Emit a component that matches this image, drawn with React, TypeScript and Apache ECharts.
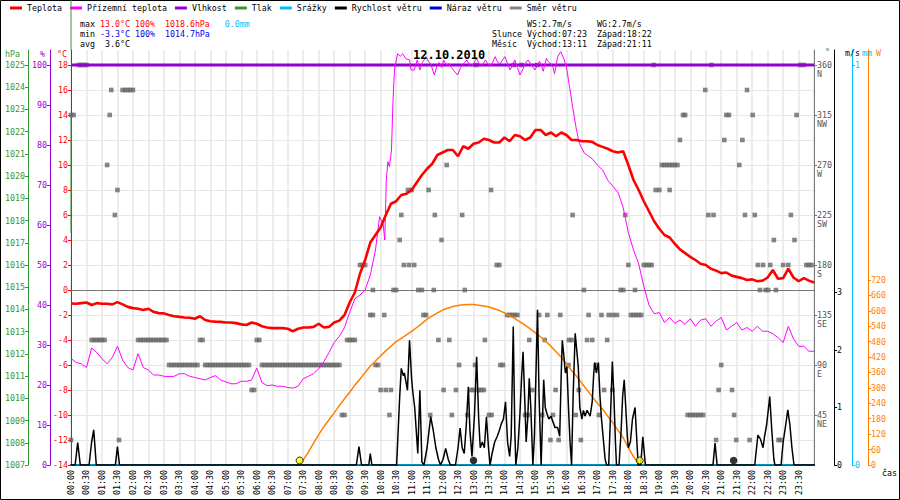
import React, { useEffect, useRef } from 'react';
import * as echarts from 'echarts';

// ---------- data ----------
const legendNames = ['Teplota', 'Přízemní teplota', 'Vlhkost', 'Tlak', 'Srážky', 'Rychlost větru', 'Náraz větru', 'Směr větru'];
const dateTitle = '12.10.2010';

// temperature, every 10 minutes from 00:00 to 24:00 (°C)
const STEP_MIN = 10;
const airTemp = [
  -1.08, -1.1, -1.05, -1.0, -1.2, -1.05, -1.1, -1.1, -1.15, -0.97, -1.15, -1.35,
  -1.45, -1.5, -1.6, -1.5, -1.75, -1.85, -1.87, -2.0, -2.1, -2.15, -2.2, -2.22,
  -2.3, -2.1, -2.4, -2.5, -2.53, -2.55, -2.6, -2.6, -2.65, -2.75, -2.8, -2.6,
  -2.7, -2.9, -3.0, -3.05, -3.05, -3.05, -3.1, -3.3, -3.1, -3.0, -3.0, -2.95,
  -2.7, -3.0, -2.95, -2.6, -2.45, -2.0, -1.0, -0.2, 1.3, 2.4, 3.8, 4.4,
  5.0, 6.0, 6.9, 7.1, 7.6, 7.7, 8.0, 8.6, 9.2, 9.7, 10.1, 10.8,
  11.0, 11.2, 11.2, 10.7, 11.5, 11.3, 11.7, 11.8, 12.1, 12.0, 11.8, 11.8,
  12.2, 11.9, 12.4, 12.3, 12.0, 12.2, 12.8, 12.8, 12.4, 12.6, 12.3, 12.6,
  12.4, 12.0, 12.0, 11.9, 11.9, 11.85, 11.6, 11.45, 11.3, 11.1, 11.0, 11.1,
  10.0, 8.8, 8.0, 7.1, 6.3, 5.5, 4.9, 4.4, 4.2, 3.7, 3.25, 2.95,
  2.65, 2.4, 2.1, 2.0, 1.7, 1.55, 1.35, 1.4, 1.15, 1.05, 0.95, 0.8,
  0.85, 0.7, 0.75, 1.0, 1.6, 0.9, 0.95, 1.7, 1.0, 0.7, 0.95, 0.75,
  0.6,
];

// ground temperature, every 10 minutes (°C)
const groundTemp = [
  -5.47, -5.8, -5.9, -6.2, -4.65, -5.0, -5.5, -5.9, -5.4, -4.5, -5.6, -6.2,
  -6.4, -5.1, -6.2, -6.4, -6.8, -6.8, -6.9, -6.93, -6.9, -6.7, -6.7, -6.9,
  -7.0, -7.1, -7.2, -7.0, -6.85, -7.2, -7.35, -7.5, -7.5, -7.3, -7.3, -7.2,
  -6.25, -7.4, -7.65, -7.6, -7.7, -7.7, -7.8, -7.85, -7.7, -7.1, -6.9, -6.7,
  -6.3, -5.73, -5.0, -4.2, -3.7, -3.0, -1.8, -0.7, -0.4, 0.0, 1.2, 3.2,
  5.5, 8.0, 11.0, 18.3, 18.9, 18.6, 17.6, 18.4, 17.7, 18.6, 17.8, 17.9,
  18.4, 18.1, 17.6, 17.3, 18.1, 18.3, 18.0, 18.5, 18.3, 18.0, 18.7, 18.1,
  18.67, 17.9, 18.4, 17.2, 18.2, 18.4, 17.7, 18.3, 18.5, 18.1, 18.6, 19.0,
  17.8, 15.0, 12.8, 11.2, 10.8, 10.5, 10.0, 9.6, 8.8, 8.3, 7.8, 6.6,
  4.6, 3.2, 2.1, 0.3, -1.2, -1.9, -1.8, -2.6, -2.2, -2.67, -2.4, -2.75,
  -2.3, -2.9, -2.4, -2.3, -2.9, -2.5, -2.2, -3.2, -2.9, -2.6, -3.2, -3.0,
  -3.3, -2.9, -3.3, -3.3, -3.5, -3.8, -4.2, -2.9, -3.9, -4.5, -4.5, -4.9,
  -4.9,
];
// finer ground temperature readings for the sunny part of the day [minute, °C]
const DETAIL_FROM = 595;
const DETAIL_TO = 995;
const groundTempDetail: number[][] = [
  [598, 5.87], [605, 5.2], [608, 4.0], [611, 8.8], [614, 10.27], [617, 9.87], [621, 11.2], [624, 15.2],
  [627, 17.73], [633, 18.9], [638, 18.7], [643, 18.9], [649, 18.5], [656, 18.4], [659, 17.6], [665, 17.6],
  [671, 18.4], [676, 17.6], [681, 18.2], [688, 18.67], [694, 18.2], [697, 18.1], [704, 17.2], [709, 17.9],
  [713, 18.2], [718, 17.8], [722, 18.4], [727, 18.0], [732, 18.1], [737, 17.8], [741, 17.6], [749, 17.2],
  [754, 17.7], [758, 18.0], [763, 18.2], [767, 18.4], [772, 18.0], [777, 17.9], [781, 18.2], [786, 18.53],
  [791, 18.1], [796, 17.9], [800, 18.2], [803, 18.4], [809, 18.0], [815, 18.0], [819, 18.4], [822, 18.67],
  [827, 18.2], [832, 18.1], [836, 18.4], [841, 18.67], [846, 18.1], [851, 17.6], [856, 18.0], [860, 18.4],
  [865, 17.8], [870, 17.2], [875, 17.6], [879, 18.0], [883, 18.3], [886, 18.4], [892, 18.0], [899, 17.6],
  [904, 18.0], [908, 18.3], [912, 17.9], [915, 17.5], [921, 18.53], [926, 18.2], [930, 18.1], [934, 17.8],
  [937, 17.3], [943, 18.67], [949, 19.07], [956, 18.4], [961, 17.6], [966, 16.27], [972, 14.67], [979, 12.93],
  [985, 11.73], [995, 10.93],
];

// humidity (%), hourly
const humidity = [100, 100, 100, 100, 100, 100, 100, 100, 100, 100, 100, 100, 100,
  100, 100, 100, 100, 100, 100, 100, 100, 100, 100, 100, 100];

// rain (mm)
const rainTimes = [0, 1440];
const rain = [0, 0];

// wind speed [minute of day, m/s]
const windSpeed: number[][] = [
  [0, 0], [8, 0], [13, 0.39], [18, 0], [35, 0], [40, 0.4], [44, 0.61], [49, 0], [86, 0], [90, 0.32], [94, 0],
  [553, 0], [558, 0.32], [563, 0], [577, 0], [580, 0.2], [583, 0],
  [631, 0], [637, 1.2], [640, 1.68], [644, 1.55], [646, 1.6], [652, 1.3], [656, 2.17], [660, 1.5], [662, 1.3],
  [666, 1.0], [669, 0.6], [672, 0.2], [676, 1.3], [680, 0.05], [684, 0], [690, 0.3], [697, 0.84], [702, 0.6],
  [707, 0.3], [712, 0.1], [716, 0], [721, 0.1], [726, 0.29], [731, 0.1], [735, 0], [745, 0], [750, 0.3],
  [754, 0.64], [758, 0.3], [762, 0.2], [766, 0.7], [770, 1.36], [773, 0.6], [777, 0.15], [782, 0.9], [786, 1.88],
  [790, 0.8], [793, 0.3], [797, 0.4], [801, 0.3], [805, 0.84], [809, 0.3], [812, 0], [816, 0.2], [821, 0.4],
  [826, 0.5], [830, 0.6], [834, 0.72], [838, 0.8], [842, 1.1], [846, 0.4], [850, 0.15], [853, 0.5], [857, 2.41],
  [860, 0.6], [862, 0], [866, 0.3], [870, 0.9], [873, 1.5], [876, 1.97], [879, 1.2], [882, 0.4], [885, 0.8],
  [888, 1.51], [891, 1.0], [895, 0], [898, 0.5], [901, 1.6], [904, 2.7], [907, 1.2], [911, 0], [913, 0.6],
  [916, 1.48], [919, 1.0], [922, 0.9], [926, 0.8], [930, 0.85], [934, 0.75], [938, 0.65], [943, 0.65], [947, 0.5],
  [950, 1.6], [952, 2.17], [955, 1.9], [958, 1.6], [961, 1.71], [964, 1.0], [967, 0.4], [970, 0], [973, 1.2],
  [977, 2.29], [980, 2.0], [983, 1.7], [986, 1.0], [990, 0.8], [993, 0.95], [996, 0.85], [1000, 0.95], [1003, 0.9],
  [1006, 0.85], [1010, 1.1], [1013, 1.6], [1015, 1.78], [1018, 1.6], [1022, 1.78], [1025, 1.2], [1028, 0.8],
  [1032, 0.4], [1035, 0.1], [1038, 0], [1042, 0], [1046, 1.0], [1049, 1.8], [1052, 1.2], [1055, 0.4], [1057, 0],
  [1062, 0], [1066, 0.6], [1069, 1.2], [1072, 1.48], [1075, 1.0], [1078, 0.5], [1080, 0.3], [1084, 0.4],
  [1088, 0.8], [1093, 1.0], [1096, 0.5], [1099, 0], [1104, 0], [1108, 0.49], [1111, 0.2], [1113, 0],
  [1244, 0], [1248, 0.38], [1252, 0], [1325, 0], [1331, 0.52], [1336, 0.45], [1341, 0.3], [1344, 0.5],
  [1348, 0.7], [1354, 1.19], [1358, 0.6], [1362, 0.1], [1364, 0], [1376, 0], [1380, 0.4], [1385, 0.7],
  [1389, 0.96], [1393, 0.7], [1397, 0.3], [1401, 0], [1440, 0],
];

// solar radiation [minute of day, W/m2]
const solar: number[][] = [
  [443, 0], [450, 20], [460, 50], [470, 85], [480, 118], [490, 149], [500, 176], [510, 203], [520, 231],
  [530, 258], [540, 283], [550, 310], [560, 335], [570, 360], [580, 385], [590, 405], [600, 425], [610, 444],
  [620, 462], [630, 480], [640, 493], [650, 506], [660, 520], [670, 535], [680, 550], [690, 568], [700, 580],
  [710, 592], [720, 603], [730, 610], [740, 617], [750, 621], [760, 624], [770, 625], [780, 625], [790, 622],
  [800, 619], [810, 615], [820, 608], [830, 601], [840, 592], [850, 581], [860, 570], [870, 557], [880, 544],
  [890, 530], [900, 514], [910, 498], [920, 481], [930, 462], [940, 441], [950, 419], [960, 394], [970, 368],
  [980, 344], [990, 318], [1000, 292], [1010, 266], [1020, 240], [1030, 218], [1040, 190], [1050, 165],
  [1060, 135], [1070, 106], [1080, 68], [1090, 33], [1102, 0],
];

// wind direction: minutes of day at which each compass direction (deg) was recorded
const dirN = [15, 20, 25, 30, 785, 858, 873, 903, 1129, 1241, 1413, 1420];
const dirNNW = [78, 100, 105, 110, 115, 120, 1229, 1310];
const dirNW = [0, 5, 75, 1186, 1190, 1270, 1275, 1321, 1406];
const dirWNW = [1180, 1266, 1301];
const dirW = [70, 728, 1145, 1150, 1155, 1160, 1165, 1170, 1175, 1295];
const dirWSW = [90, 653, 660, 693, 814, 1133, 1140, 1160];
const dirSW = [85, 640, 705, 758, 972, 1074, 1235, 1245, 1306, 1325, 1395];
const dirSSW = [637, 718, 1362, 1402];
const dirS = [560, 565, 570, 645, 655, 665, 825, 830, 1080, 1110, 1115, 1120, 1125, 1331, 1341, 1355, 1380, 1390, 1425, 1430, 1435];
const dirSSE = [585, 625, 630, 673, 680, 703, 763, 994, 1065, 1070, 1093, 1335, 1346, 1351, 1366];
const dirSE = [580, 585, 607, 683, 688, 845, 850, 855, 860, 865, 907, 923, 948, 1003, 1028, 1042, 1050, 1058, 1085, 1090, 1095, 1100, 1105];
const dirESE = [40, 45, 50, 55, 60, 65, 130, 135, 140, 145, 150, 155, 160, 165, 170, 175, 180, 185, 250, 255, 360, 365,
  535, 540, 545, 550, 712, 733, 802, 888, 918, 965, 970, 1000, 1010, 1039];
const dirE = [190, 195, 200, 205, 210, 215, 220, 225, 230, 235, 240, 245, 260, 265, 270, 275, 280, 285, 290, 295, 300,
  305, 310, 315, 320, 325, 330, 335, 340, 345, 370, 375, 380, 385, 390, 395, 400, 405, 410, 415, 420, 425, 430, 435,
  440, 445, 450, 455, 460, 465, 470, 475, 480, 485, 490, 495, 500, 505, 510, 515, 520, 590, 595, 752, 783, 832, 837,
  964, 1017, 1260];
const dirENE = [350, 355, 600, 610, 620, 722, 746, 775, 780, 790, 795, 800, 894, 939, 984, 1033, 1049, 1255, 1281];
const dirNE = [525, 530, 617, 696, 738, 768, 810, 815, 880, 885, 913, 934, 978, 1023, 1195, 1200, 1205, 1210, 1215, 1220, 1225, 1285];
const dirNNE = [0, 93, 929, 945, 988, 1250, 1289, 1315, 1371, 1375];
const dirGroups: [number, number[]][] = [
  [360, dirN], [337.5, dirNNW], [315, dirNW], [292.5, dirWNW], [270, dirW], [247.5, dirWSW], [225, dirSW],
  [202.5, dirSSW], [180, dirS], [157.5, dirSSE], [135, dirSE], [112.5, dirESE], [90, dirE], [67.5, dirENE],
  [45, dirNE], [22.5, dirNNE],
];

// sun and moon (minute of day)
const sunTimes = [443, 1102];
const moonTimes = [780, 1284];

// axis ticks
const tempTicks = [-14, -12, -10, -8, -6, -4, -2, 0, 2, 4, 6, 8, 10, 12, 14, 16, 18];
const humTicks = [0, 10, 20, 30, 40, 50, 60, 70, 80, 90, 100];
const pressTicks = [1007, 1008, 1009, 1010, 1011, 1012, 1013, 1014, 1015, 1016, 1017, 1018, 1019, 1020, 1021, 1022, 1023, 1024, 1025];
const dirTicks = [45, 90, 135, 180, 225, 270, 315, 360];
const dirLabels = ['NE', 'E', 'SE', 'S', 'SW', 'W', 'NW', 'N'];
const windTicks = [0, 1, 2, 3];
const rainTicks = [0, 1];
const solarTicks = [0, 60, 120, 180, 240, 300, 360, 420, 480, 540, 600, 660, 720];

// axis units
const unitNames = ['hPa', '%', '°C', '°', 'm/s', 'mm', 'W'];

// stats text
const maxRow = ['13.0°C', '100%', '1018.6hPa', '0.0mm'];
const minRow = ['-3.3°C', '100%', '1014.7hPa'];
const avgRow = ['3.6°C'];
const windRow = ['2.7m/s', '2.7m/s'];
const sunRow = ['07:23', '18:22'];
const moonRow = ['13:11', '21:11'];

// ---------- styles ----------
const MONO = '"DejaVu Sans Mono", "Liberation Mono", monospace';
const FS = 8.3;
const C = {
  temp: '#ff0000', ground: '#ff00ff', hum: '#9400d3', press: '#339933', rain: '#00bfff',
  wind: '#000000', gust: '#0000cd', dir: '#666666', solar: '#ff8000', grid: '#e6e6e6', blue: '#0000ee',
};

const pad2 = (n: number) => (n < 10 ? '0' + n : '' + n);
const hhmm = (m: number) => pad2(Math.floor(m / 60)) + ':' + pad2(m % 60);

function yAx(opts: any) {
  const { color, ticks, pos, offset, min, max, formatter, lineColor, split } = opts;
  return {
    type: 'value', position: pos, offset, min, max,
    axisLine: { show: true, onZero: false, lineStyle: { color: lineColor || color, width: 1 } },
    axisTick: { show: true, length: 3, customValues: ticks, lineStyle: { color: lineColor || color } },
    axisLabel: {
      customValues: ticks, color, fontFamily: MONO, fontSize: FS, margin: 3, lineHeight: 9,
      formatter: formatter || ((v: number) => String(v)),
    },
    splitLine: split ? { show: true, lineStyle: { color: C.grid, width: 1 } } : { show: false },
  };
}

function buildOption() {
  const stepData = (arr: number[]) => arr.map((v, i) => [i * STEP_MIN, v]);
  const groundData = stepData(groundTemp)
    .filter(([t]) => t < DETAIL_FROM || t > DETAIL_TO)
    .concat(groundTempDetail)
    .sort((a, b) => a[0] - b[0]);
  const dirData: number[][] = [];
  dirGroups.forEach(([deg, times]) => times.forEach((t) => dirData.push([t, deg])));
  const hourly = humidity.map((v, i) => [i * 60, v]);

  const rich = (c: string) => ({ fill: c, fontFamily: MONO, fontSize: FS });
  const textLine = (x: number, y: number, text: string, fill = '#000') => ({
    type: 'text', x, y, silent: true, z: 10,
    style: {
      text, fontFamily: MONO, fontSize: FS, fill, verticalAlign: 'middle',
      rich: { k: rich('#000'), r: rich(C.temp), b: rich(C.blue), c: rich(C.rain) },
    },
  });
  const unitColors = [C.press, C.hum, C.temp, '#555', C.wind, C.rain, C.solar];
  const unitX = [5, 40, 57, 825, 845, 862, 876];
  const unitY = [54, 54, 54, 52, 53, 53, 53];

  return {
    animation: false,
    backgroundColor: '#fff',
    title: {
      text: dateTitle, left: 413, top: 49, padding: 0,
      textStyle: { fontFamily: MONO, fontSize: 12, fontWeight: 'bold', color: '#000' },
      z: 20,
    },
    legend: {
      data: legendNames, left: 10, top: 4, itemWidth: 12, itemHeight: 3, itemGap: 8, icon: 'rect',
      selectedMode: false, padding: 0,
      textStyle: { fontFamily: MONO, fontSize: FS, color: '#000' },
    },
    grid: { left: 71, right: 77, top: 50, bottom: 35, containLabel: false },
    xAxis: {
      type: 'value', min: 0, max: 1440, interval: 30,
      name: 'čas', nameLocation: 'end', nameGap: 10,
      nameTextStyle: { color: '#000', fontFamily: MONO, fontSize: FS, align: 'left', verticalAlign: 'top', padding: [4, 0, 0, 0] },
      axisLine: { show: true, onZero: false, lineStyle: { color: '#000', width: 2 } },
      axisTick: { show: false },
      axisLabel: {
        rotate: 90, margin: 5, color: '#000', fontFamily: MONO, fontSize: FS, showMaxLabel: false,
        formatter: (v: number) => hhmm(v),
      },
      splitLine: { show: true, lineStyle: { color: C.grid, width: 1.5 } },
    },
    yAxis: [
      yAx({ color: C.temp, ticks: tempTicks, pos: 'left', offset: 0, min: -14, max: 19.2, split: true }),
      yAx({ color: C.hum, ticks: humTicks, pos: 'left', offset: 21, min: 0, max: 103.75 }),
      yAx({ color: C.press, ticks: pressTicks, pos: 'left', offset: 43, min: 1007, max: 1025.675 }),
      yAx({
        color: '#555', lineColor: '#777', ticks: dirTicks, pos: 'right', offset: 0, min: 0, max: 373.5,
        formatter: (v: number) => ' \n' + v + '\n' + dirLabels[dirTicks.indexOf(v)],
      }),
      yAx({ color: C.wind, ticks: windTicks, pos: 'right', offset: 20, min: 0, max: 7.217 }),
      yAx({ color: C.rain, ticks: rainTicks, pos: 'right', offset: 38, min: 0, max: 1.0375 }),
      yAx({ color: C.solar, ticks: solarTicks, pos: 'right', offset: 54, min: 0, max: 1615 }),
    ],
    series: [
      {
        name: 'Směr větru', type: 'scatter', yAxisIndex: 3, data: dirData, symbol: 'rect', symbolSize: 4.6,
        itemStyle: { color: C.dir }, z: 2, silent: true,
      },
      {
        name: 'Vlhkost', type: 'line', yAxisIndex: 1, data: hourly, showSymbol: false,
        lineStyle: { color: C.hum, width: 3 }, itemStyle: { color: C.hum }, z: 3, silent: true,
      },
      {
        name: 'Tlak', type: 'line', yAxisIndex: 2, data: [], showSymbol: false,
        lineStyle: { color: C.press, width: 1 }, itemStyle: { color: C.press },
      },
      {
        name: 'Sluneční záření', type: 'line', yAxisIndex: 6, data: solar, showSymbol: false,
        lineStyle: { color: C.solar, width: 1.5 }, itemStyle: { color: C.solar }, z: 3, silent: true,
      },
      {
        name: 'Srážky', type: 'line', yAxisIndex: 5, data: rainTimes.map((t, i) => [t, rain[i]]), showSymbol: false,
        lineStyle: { color: C.rain, width: 1.5 }, itemStyle: { color: C.rain }, z: 3, silent: true,
      },
      {
        name: 'Rychlost větru', type: 'line', yAxisIndex: 4, data: windSpeed, showSymbol: false,
        lineStyle: { color: C.wind, width: 1.5 }, itemStyle: { color: C.wind }, z: 4, silent: true,
      },
      {
        name: 'Náraz větru', type: 'line', yAxisIndex: 4, data: [], showSymbol: false,
        lineStyle: { color: C.gust, width: 1 }, itemStyle: { color: C.gust },
      },
      {
        name: 'Přízemní teplota', type: 'line', yAxisIndex: 0, data: groundData, showSymbol: false,
        lineStyle: { color: C.ground, width: 1 }, itemStyle: { color: C.ground }, z: 4, silent: true,
      },
      {
        name: 'Teplota', type: 'line', yAxisIndex: 0, data: stepData(airTemp), showSymbol: false,
        lineStyle: { color: C.temp, width: 2.6 }, itemStyle: { color: C.temp }, z: 5, silent: true,
        markLine: {
          silent: true, symbol: 'none', label: { show: false },
          lineStyle: { color: '#777', type: 'solid', width: 1 }, data: [{ yAxis: 0 }], z: 1,
        },
      },
      {
        name: 'Slunce', type: 'scatter', yAxisIndex: 6, data: sunTimes.map((t) => [t, 0]), symbol: 'circle',
        symbolSize: 7, symbolOffset: [0, -4.5], itemStyle: { color: '#ffff00', borderColor: '#000', borderWidth: 1 }, z: 6, silent: true,
      },
      {
        name: 'Měsíc', type: 'scatter', yAxisIndex: 6, data: moonTimes.map((t) => [t, 0]), symbol: 'circle',
        symbolSize: 7.5, symbolOffset: [0, -4.5], itemStyle: { color: '#000' }, z: 6, silent: true,
      },
    ],
    graphic: [
      { type: 'rect', silent: true, shape: { x: 0.5, y: 0.5, width: 899, height: 499 }, style: { fill: 'none', stroke: '#000', lineWidth: 1 }, z: 30 },
      { type: 'line', silent: true, shape: { x1: 71, y1: 0, x2: 71, y2: 50 }, style: { stroke: C.press, lineWidth: 1 }, z: 30 },
      { type: 'line', silent: true, shape: { x1: 71, y1: 117, x2: 71, y2: 233 }, style: { stroke: C.press, lineWidth: 1 }, z: 30 },
      textLine(80, 24, `{k|max} {r|${maxRow[0]} ${maxRow[1]}}  {r|${maxRow[2]}}   {c|${maxRow[3]}}`),
      textLine(80, 34, `{k|min} {b|${minRow[0]} ${minRow[1]}}  {b|${minRow[2]}}`),
      textLine(80, 44, `avg  ${avgRow[0]}`),
      textLine(492, 24, `       WS:${windRow[0]}     WG:${windRow[1]}`),
      textLine(492, 34, `Slunce Východ:${sunRow[0]}  Západ:${sunRow[1]}`),
      textLine(492, 44, `Měsíc  Východ:${moonRow[0]}  Západ:${moonRow[1]}`),
      ...unitNames.map((u, i) => textLine(unitX[i], unitY[i], u, unitColors[i])),
    ],
  };
}

export default function App() {
  const ref = useRef<HTMLDivElement>(null);
  useEffect(() => {
    if (!ref.current) return;
    const chart = echarts.init(ref.current, null, { renderer: 'svg' });
    chart.setOption(buildOption() as any);
    return () => chart.dispose();
  }, []);
  return (
    <div
      ref={ref}
      style={{ position: 'fixed', left: 0, top: 0, width: 900, height: 500, background: '#fff' }}
    />
  );
}
